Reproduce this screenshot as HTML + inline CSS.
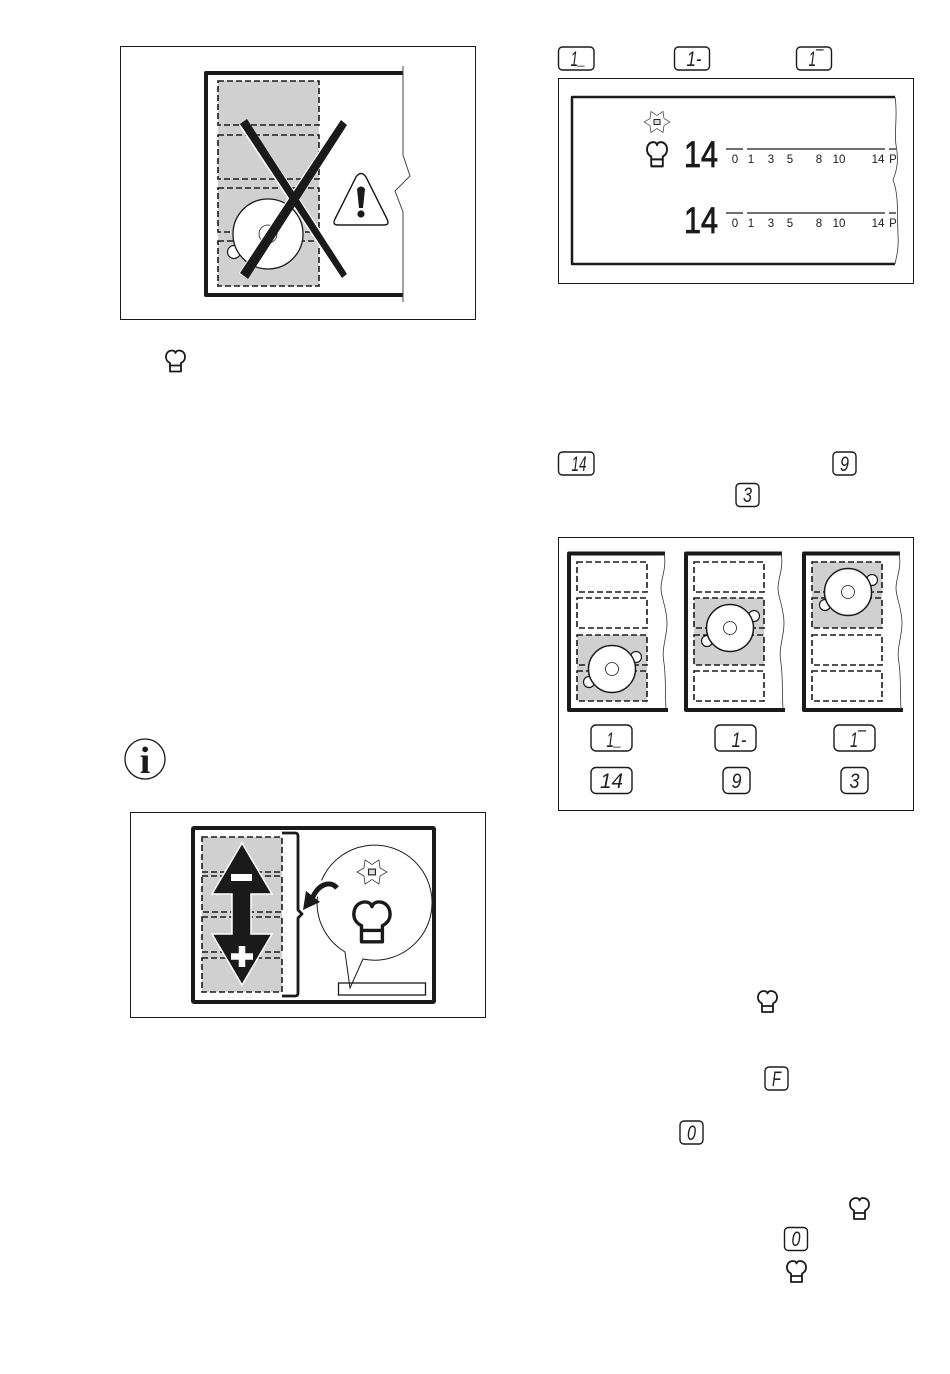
<!DOCTYPE html>
<html>
<head>
<meta charset="utf-8">
<style>
html,body{margin:0;padding:0;background:#fff}
svg{display:block}
.s{font-family:"Liberation Sans",sans-serif;font-size:11.5px;fill:#1a1a1a;text-anchor:middle}
.k{font-family:"Liberation Sans",sans-serif;font-style:italic;font-size:21px;fill:#222;text-anchor:middle}
.b{font-family:"Liberation Sans",sans-serif;font-size:37px;fill:#1a1a1a;stroke:#1a1a1a;stroke-width:.8}
.d{fill:none;stroke:#1a1a1a;stroke-width:1.6;stroke-dasharray:6 3}
.kb{fill:#fff;stroke:#1a1a1a;stroke-width:1.4}
.f{fill:none;stroke:#1a1a1a;stroke-linejoin:round}
</style>
</head>
<body>
<svg width="950" height="1374" viewBox="0 0 950 1374" xmlns="http://www.w3.org/2000/svg">
<defs>
<g id="chef">
<path d="M5,22V13.500C2,12 .8,9.500 1,7C1.200,3 4,1 7,1C8.500,1 10,1.800 10.500,3.500C11,1.800 12.500,1 14,1C17,1 19.800,3 20,7C20.200,9.500 19,12 16,13.500V22ZM5,16H16" fill="#fff" stroke="#1a1a1a" stroke-width="1.800" stroke-linejoin="round"/>
</g>
<g id="star">
<path d="M-13,0L-7,-3.500L-6,-10.500L0,-6.500L6,-10.500L7,-3.500L13,0L7,3.500L6,10.500L0,6.500L-6,10.500L-7,3.500Z" fill="#fff" stroke="#333" stroke-width=".7"/>
<rect x="-3" y="-2.500" width="6" height="5" fill="#ddd" stroke="#222" stroke-width="1"/>
</g>
<g id="pot">
<circle cx="24" cy="-12" r="5.500" fill="#fff" stroke="#1a1a1a" stroke-width="1.200"/>
<circle cx="-23" cy="13" r="5.500" fill="#fff" stroke="#1a1a1a" stroke-width="1.200"/>
<circle r="23.500" fill="#fff" stroke="#1a1a1a" stroke-width="1.500"/>
<circle r="6.500" fill="#fff" stroke="#1a1a1a" stroke-width=".8"/>
</g>
<path id="wave" d="M0,0C3,15 -3,25 -3,35C-3,45 3,55 3,70C3,85 -3,95 0,110C2,125 1,140 2,156" fill="none" stroke="#333" stroke-width=".8"/>
</defs>

<!-- Panel 1 -->
<rect x="120.500" y="46.500" width="355" height="273" fill="#fff" stroke="#1a1a1a"/>
<rect x="218" y="81" width="101" height="205" fill="#d0d0d0"/>
<rect class="d" x="218" y="81" width="101" height="44"/>
<rect class="d" x="218" y="135" width="101" height="44"/>
<rect class="d" x="218" y="188" width="101" height="44"/>
<rect class="d" x="218" y="241" width="101" height="45"/>
<path d="M403,73H206V295H403" class="f" stroke-width="4"/>
<path d="M403,66V155L410,176L395,191L403,212V302" fill="none" stroke="#444" stroke-width="1"/>
<circle cx="234" cy="252" r="6.500" fill="#fff" stroke="#1a1a1a" stroke-width="1.200"/>
<circle cx="268" cy="234" r="35" fill="#fff" stroke="#1a1a1a" stroke-width="1.300"/>
<circle cx="268" cy="234" r="9" fill="#fff" stroke="#1a1a1a" stroke-width=".8"/>
<path d="M244,124L345,276M344,122L243,276" stroke="#fff" stroke-width="10" fill="none"/>
<path d="M240,124L247,119L347,274L342,278Z" fill="#1a1a1a"/>
<path d="M341,120L347,125L248,279L240,273Z" fill="#1a1a1a"/>
<path d="M356,177Q361,170 366,177L387,219Q390,225 384,225H338Q332,225 335,219Z" fill="#fff" stroke="#1a1a1a" stroke-width="1.400"/>
<path d="M357,189Q361,184 365,189L363,208H359Z" fill="#1a1a1a"/>
<circle cx="361" cy="214" r="3.600" fill="#1a1a1a"/>

<use href="#chef" x="165" y="349.500"/>

<!-- Top keys -->
<rect class="kb" x="558.500" y="47" width="35.500" height="23" rx="4"/>
<text class="k" x="578" y="66" textLength="15" lengthAdjust="spacingAndGlyphs">1<tspan dy="-2">_</tspan></text>
<rect class="kb" x="674.500" y="47" width="35" height="23" rx="4"/>
<text class="k" x="694" y="66" textLength="15" lengthAdjust="spacingAndGlyphs">1-</text>
<rect class="kb" x="796.500" y="47" width="35" height="23" rx="4"/>
<text class="k" x="816" y="66" textLength="15" lengthAdjust="spacingAndGlyphs">1¯</text>

<!-- Panel 2 -->
<rect x="558.500" y="78.500" width="355" height="205" fill="#fff" stroke="#1a1a1a"/>
<path d="M895,97H572V264H895" class="f" stroke-width="2.500"/>
<path d="M895,97C898,115 894,130 896,145C899,160 897,170 893,180C899,195 897,215 898,235C899,250 896,258 895,264" fill="none" stroke="#333" stroke-width=".8"/>
<use href="#star" x="657" y="122"/>
<use href="#chef" transform="translate(646,141) scale(1.050 1.150)"/>
<text class="b" x="684" y="167" textLength="34" lengthAdjust="spacingAndGlyphs">14</text>
<text class="b" x="684" y="233" textLength="34" lengthAdjust="spacingAndGlyphs">14</text>
<path d="M726,149H743M747,149H885M889,149H896M726,213H743M747,213H885M889,213H896" stroke="#1a1a1a" stroke-width="1.200" fill="none"/>
<g class="s">
<text x="735" y="163">0</text><text x="751" y="163">1</text><text x="771" y="163">3</text><text x="790" y="163">5</text><text x="819" y="163">8</text><text x="839" y="163">10</text><text x="878" y="163">14</text><text x="893" y="163">P</text>
<text x="735" y="227">0</text><text x="751" y="227">1</text><text x="771" y="227">3</text><text x="790" y="227">5</text><text x="819" y="227">8</text><text x="839" y="227">10</text><text x="878" y="227">14</text><text x="893" y="227">P</text>
</g>

<!-- Mid keys -->
<rect class="kb" x="558.500" y="452" width="35.500" height="23" rx="4"/>
<text class="k" x="579" y="471" textLength="15" lengthAdjust="spacingAndGlyphs">14</text>
<rect class="kb" x="833" y="452" width="23" height="23" rx="4"/>
<text class="k" x="844.500" y="471" textLength="9" lengthAdjust="spacingAndGlyphs">9</text>
<rect class="kb" x="736" y="483.500" width="23" height="23" rx="4"/>
<text class="k" x="747.500" y="502" textLength="9" lengthAdjust="spacingAndGlyphs">3</text>

<!-- Panel 3 -->
<rect x="558.500" y="537.500" width="355" height="273" fill="#fff" stroke="#1a1a1a"/>
<g>
<rect x="577" y="635" width="70" height="66" fill="#d0d0d0"/>
<rect class="d" x="577" y="562" width="70" height="30"/>
<rect class="d" x="577" y="598" width="70" height="30"/>
<rect class="d" x="577" y="635" width="70" height="30"/>
<rect class="d" x="577" y="671" width="70" height="30"/>
<use href="#pot" x="612" y="669"/>
<path d="M665,553.500H569V710H668" class="f" stroke-width="4"/>
<use href="#wave" x="664" y="553"/>
</g>
<g>
<rect x="694" y="598" width="70" height="67" fill="#d0d0d0"/>
<rect class="d" x="694" y="562" width="70" height="30"/>
<rect class="d" x="694" y="598" width="70" height="30"/>
<rect class="d" x="694" y="635" width="70" height="30"/>
<rect class="d" x="694" y="671" width="70" height="30"/>
<use href="#pot" x="730" y="628"/>
<path d="M782,553.500H686V710H785" class="f" stroke-width="4"/>
<use href="#wave" x="781" y="553"/>
</g>
<g>
<rect x="812" y="562" width="70" height="66" fill="#d0d0d0"/>
<rect class="d" x="812" y="562" width="70" height="30"/>
<rect class="d" x="812" y="598" width="70" height="30"/>
<rect class="d" x="812" y="635" width="70" height="30"/>
<rect class="d" x="812" y="671" width="70" height="30"/>
<use href="#pot" x="848" y="592"/>
<path d="M900,553.500H804V710H903" class="f" stroke-width="4"/>
<use href="#wave" x="899" y="553"/>
</g>
<rect class="kb" x="591" y="725" width="41" height="26" rx="5"/>
<text class="k" x="614" y="747" textLength="15" lengthAdjust="spacingAndGlyphs">1<tspan dy="-2">_</tspan></text>
<rect class="kb" x="715" y="725" width="41" height="26" rx="5"/>
<text class="k" x="739" y="747" textLength="15" lengthAdjust="spacingAndGlyphs">1-</text>
<rect class="kb" x="834" y="725" width="41" height="26" rx="5"/>
<text class="k" x="858" y="747" textLength="16" lengthAdjust="spacingAndGlyphs">1¯</text>
<rect class="kb" x="591" y="767.500" width="41" height="26" rx="5"/>
<text class="k" x="611.500" y="788" textLength="23" lengthAdjust="spacingAndGlyphs">14</text>
<rect class="kb" x="723" y="767.500" width="27" height="26" rx="5"/>
<text class="k" x="736.500" y="788" textLength="10" lengthAdjust="spacingAndGlyphs">9</text>
<rect class="kb" x="841" y="767.500" width="27" height="26" rx="5"/>
<text class="k" x="854.500" y="788" textLength="10" lengthAdjust="spacingAndGlyphs">3</text>

<!-- Info -->
<circle cx="145" cy="759" r="20" fill="#fff" stroke="#1a1a1a" stroke-width="1.300"/>
<text x="145" y="773" text-anchor="middle" font-family="Liberation Serif, serif" font-weight="bold" font-size="38" fill="#1a1a1a">i</text>

<!-- Panel 4 -->
<rect x="130.500" y="812.500" width="355" height="205" fill="#fff" stroke="#1a1a1a"/>
<rect x="193" y="828" width="241" height="174" fill="#fff" stroke="#1a1a1a" stroke-width="4" rx="1"/>
<rect x="202" y="837" width="80" height="155" fill="#d0d0d0"/>
<rect class="d" x="202" y="837" width="80" height="35"/>
<rect class="d" x="202" y="876" width="80" height="36"/>
<rect class="d" x="202" y="917" width="80" height="35"/>
<rect class="d" x="202" y="958" width="80" height="34"/>
<path d="M242,843L272,894H251V934H272L242,985L212,934H232V894H212Z" fill="#1a1a1a" stroke="#fff" stroke-width="1.500"/>
<rect x="231" y="874" width="21" height="7" fill="#fff"/>
<path d="M231,956.500H253M242,946V967" stroke="#fff" stroke-width="6.500" fill="none"/>
<path d="M282,833H295Q298,833 298,836V910L302,914L298,918V993Q298,996 295,996H282" class="f" stroke-width="2.800"/>
<path d="M345,952A57.500,57.500 0 1 1 363,959L350,988Z" fill="#fff" stroke="#1a1a1a" stroke-width="1"/>
<rect x="338.500" y="983" width="87" height="12" fill="none" stroke="#1a1a1a" stroke-width="1.300"/>
<path d="M338,888C330,878 318,884 311,899" fill="none" stroke="#fff" stroke-width="9"/>
<path d="M337,888C330,880 318,884 312,899" fill="none" stroke="#1a1a1a" stroke-width="5"/>
<path d="M303,910L306,891L320,902Z" fill="#1a1a1a"/>
<use href="#star" transform="translate(372,872) scale(1.150)"/>
<use href="#chef" transform="translate(352,900) scale(1.900)"/>

<!-- Inline icons -->
<use href="#chef" x="757" y="990"/>
<rect class="kb" x="765" y="1067" width="23" height="23" rx="4"/>
<text class="k" x="776.500" y="1086" textLength="9" lengthAdjust="spacingAndGlyphs">F</text>
<rect class="kb" x="680" y="1121" width="23" height="23" rx="4"/>
<text class="k" x="691.500" y="1140" textLength="9" lengthAdjust="spacingAndGlyphs">0</text>
<use href="#chef" x="849" y="1197"/>
<rect class="kb" x="784.500" y="1227.500" width="23" height="23" rx="4"/>
<text class="k" x="796" y="1246" textLength="9" lengthAdjust="spacingAndGlyphs">0</text>
<use href="#chef" x="786" y="1260"/>
</svg>
</body>
</html>
